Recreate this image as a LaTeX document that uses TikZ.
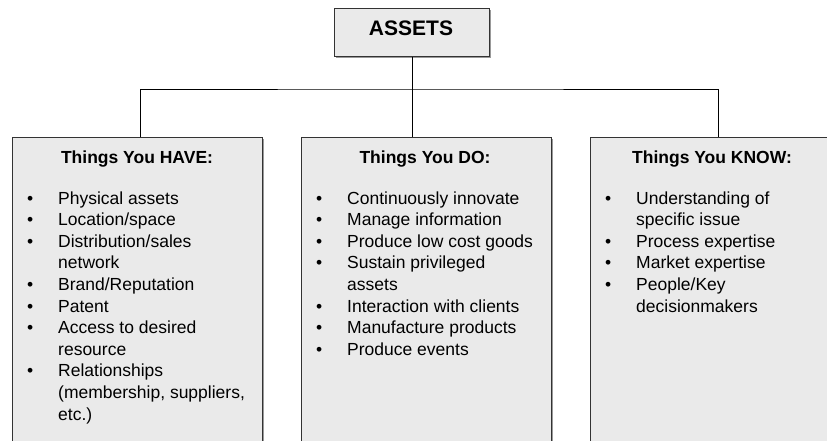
\documentclass[tikz,border=0pt]{standalone}
\usepackage{fontspec}
\setmainfont{Liberation Sans}
\usetikzlibrary{positioning, shadows}

\definecolor{boxfill}{HTML}{EAEAEA}
\definecolor{boxline}{HTML}{333333}
\newcommand{\bul}{\leavevmode\llap{\textbullet\hspace{25pt}}}
\newcommand{\lines}[1]{\parbox[t]{200pt}{\raggedright #1}}

\begin{document}
\begin{tikzpicture}[x=1pt, y=-1pt,
    box/.style={draw=boxline, fill=boxfill, line width=1pt, inner sep=0,
      drop shadow={shadow xshift=1.5pt, shadow yshift=-1.5pt, fill=gray!80, opacity=1}},
    col/.style={box, minimum width=250pt, minimum height=310pt, anchor=north west},
    head/.style={anchor=base, font=\bfseries\fontsize{17.5}{21}\selectfont},
    lst/.style={anchor=base west, inner sep=0,
      font=\fontsize{17.5}{21.6}\selectfont},
    link/.style={draw=black, line width=0.8pt}]
  \clip (0,0) rectangle (827,440);

  % top box
  \node[box, minimum width=155pt, minimum height=48pt] (assets) at (412,32) {};
  \node[anchor=base, font=\bfseries\fontsize{21}{25}\selectfont] (assetst) at (411,35) {ASSETS};

  % three columns
  \node[col] (have) at (12,137) {};
  \node[col, right=38 of have.north east, anchor=north west] (do) {};
  \node[col, right=38 of do.north east, anchor=north west] (know) {};

  \node[head] (haveh) at (137,163) {Things You HAVE:};
  \node[head] (doh) at (425,163) {Things You DO:};
  \node[head] (knowh) at (712,163) {Things You KNOW:};

  \node[lst] (havel) at ([xshift=46pt]have.west |- 0,204) {\lines{%
    \bul Physical assets\\
    \bul Location/space\\
    \bul Distribution/sales\\
    network\\
    \bul Brand/Reputation\\
    \bul Patent\\
    \bul Access to desired\\
    resource\\
    \bul Relationships\\
    (membership, suppliers,\\
    etc.)}};
  \node[lst] (dol) at ([xshift=46pt]do.west |- 0,204) {\lines{%
    \bul Continuously innovate\\
    \bul Manage information\\
    \bul Produce low cost goods\\
    \bul Sustain privileged\\
    assets\\
    \bul Interaction with clients\\
    \bul Manufacture products\\
    \bul Produce events}};
  \node[lst] (knowl) at ([xshift=46pt]know.west |- 0,204) {\lines{%
    \bul Understanding of\\
    specific issue\\
    \bul Process expertise\\
    \bul Market expertise\\
    \bul People/Key\\
    decisionmakers}};

  % connectors
  \coordinate (bus) at (412,89);
  \draw[link] (assets.south) -- (bus);
  \draw[link] ([xshift=3pt]have.north) |- (bus) -| ([xshift=3pt]know.north);
  \draw[link] (bus) -- (bus |- do.north);
\end{tikzpicture}
\end{document}
